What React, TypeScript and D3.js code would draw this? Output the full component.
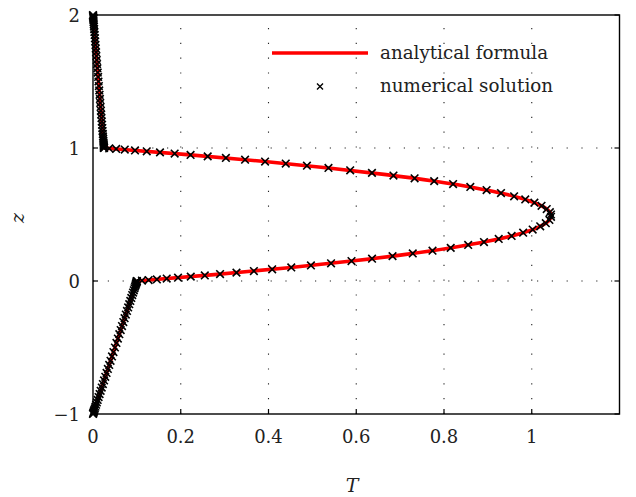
import React from "react";
import * as d3 from "d3";

// ---- data ----
const xTicks = [0, 0.2, 0.4, 0.6, 0.8, 1];
const xTickLabels = ["0", "0.2", "0.4", "0.6", "0.8", "1"];
const yTicks = [-1, 0, 1, 2];
const yTickLabels = ["\u22121", "0", "1", "2"];
const xGrid = [0.2, 0.4, 0.6, 0.8, 1];
const yGrid = [0, 1];

// analytical formula (z, T)
const anaLowZ = [-1, 0];
const anaLowT = [0, 0.1];
const anaMidZ = [0, 0.05, 0.1, 0.15, 0.2, 0.25, 0.3, 0.35, 0.4, 0.45, 0.5, 0.55, 0.6, 0.65, 0.7, 0.75, 0.8, 0.85, 0.9, 0.95, 1];
const anaMidT = [0.1, 0.2827, 0.4458, 0.5892, 0.713, 0.8172, 0.9018, 0.9667, 1.012, 1.0377, 1.0438, 1.0302, 0.997, 0.9442, 0.8718, 0.7797, 0.668, 0.5367, 0.3858, 0.2152, 0.025];
const anaUpZ = [1, 2];
const anaUpT = [0.025, 0];

// numerical solution (z, T)
const numLowZ = [-1, -0.996, -0.991, -0.985, -0.978, -0.969, -0.958, -0.945, -0.93, -0.913, -0.894, -0.873, -0.85, -0.826, -0.801, -0.775, -0.748, -0.72, -0.691, -0.661, -0.631, -0.6, -0.567, -0.534, -0.5, -0.466, -0.433, -0.4, -0.369, -0.339, -0.309, -0.28, -0.252, -0.225, -0.199, -0.174, -0.15, -0.127, -0.106, -0.087, -0.07, -0.055, -0.042, -0.031, -0.022, -0.015, -0.009, -0.004, 0];
const numLowT = [0, 0.0004, 0.0009, 0.0015, 0.0022, 0.0031, 0.0042, 0.0055, 0.007, 0.0087, 0.0106, 0.0127, 0.015, 0.0174, 0.0199, 0.0225, 0.0252, 0.028, 0.0309, 0.0339, 0.0369, 0.04, 0.0433, 0.0466, 0.05, 0.0534, 0.0567, 0.06, 0.0631, 0.0661, 0.0691, 0.072, 0.0748, 0.0775, 0.0801, 0.0826, 0.085, 0.0873, 0.0894, 0.0913, 0.093, 0.0945, 0.0958, 0.0969, 0.0978, 0.0985, 0.0991, 0.0996, 0.1];
const numMidZ = [0, 0.003, 0.007, 0.012, 0.018, 0.025, 0.033, 0.042, 0.052, 0.063, 0.075, 0.088, 0.102, 0.117, 0.133, 0.15, 0.168, 0.187, 0.207, 0.228, 0.249, 0.271, 0.293, 0.316, 0.339, 0.363, 0.387, 0.411, 0.435, 0.459, 0.483, 0.5, 0.517, 0.541, 0.565, 0.589, 0.613, 0.637, 0.661, 0.684, 0.707, 0.729, 0.751, 0.772, 0.793, 0.813, 0.832, 0.85, 0.867, 0.883, 0.898, 0.912, 0.925, 0.937, 0.948, 0.958, 0.967, 0.975, 0.982, 0.988, 0.993, 0.997, 1];
const numMidT = [0.1, 0.1115, 0.1268, 0.1456, 0.168, 0.1938, 0.2228, 0.2548, 0.2896, 0.327, 0.3667, 0.4084, 0.4519, 0.4967, 0.5426, 0.5892, 0.636, 0.6827, 0.7288, 0.7738, 0.8153, 0.8551, 0.8911, 0.9247, 0.9541, 0.9804, 1.0021, 1.0193, 1.032, 1.0402, 1.0439, 1.0438, 1.0413, 1.0341, 1.0223, 1.006, 0.9852, 0.9598, 0.9299, 0.8971, 0.86, 0.8207, 0.7776, 0.733, 0.6848, 0.6358, 0.5862, 0.5367, 0.4876, 0.4393, 0.3922, 0.3466, 0.3029, 0.2614, 0.2224, 0.1861, 0.1527, 0.1225, 0.0957, 0.0724, 0.0528, 0.037, 0.025];
const numUpZ = [1, 1.004, 1.009, 1.015, 1.022, 1.031, 1.042, 1.055, 1.07, 1.087, 1.106, 1.127, 1.15, 1.174, 1.199, 1.225, 1.252, 1.28, 1.309, 1.339, 1.369, 1.4, 1.433, 1.466, 1.5, 1.534, 1.567, 1.6, 1.631, 1.661, 1.691, 1.72, 1.748, 1.775, 1.801, 1.826, 1.85, 1.873, 1.894, 1.913, 1.93, 1.945, 1.958, 1.969, 1.978, 1.985, 1.991, 1.996, 2];
const numUpT = [0.025, 0.0249, 0.0248, 0.0246, 0.0245, 0.0242, 0.024, 0.0236, 0.0233, 0.0228, 0.0224, 0.0218, 0.0213, 0.0207, 0.02, 0.0194, 0.0187, 0.018, 0.0173, 0.0165, 0.0158, 0.015, 0.0142, 0.0134, 0.0125, 0.0117, 0.0108, 0.01, 0.0092, 0.0085, 0.0077, 0.007, 0.0063, 0.0056, 0.005, 0.0044, 0.0038, 0.0032, 0.0027, 0.0022, 0.0018, 0.0014, 0.0011, 0.0008, 0.0006, 0.0004, 0.0002, 0.0001, 0];

const legendLabels = ["analytical formula", "numerical solution"];

// ---- layout ----
const W = 636, H = 497;
const left = 93, right = 619.5, top = 15, bottom = 414;
const FONT = "DejaVu Serif";

export default function App() {
  const x = d3.scaleLinear().domain([0, 1.2]).range([left, right]);
  const y = d3.scaleLinear().domain([-1, 2]).range([bottom, top]);

  const pts = (zs: number[], ts: number[]) => zs.map((z, i) => [ts[i], z] as [number, number]);
  const straight = d3.line<[number, number]>().x(d => x(d[0])).y(d => y(d[1]));
  const smooth = d3.line<[number, number]>().x(d => x(d[0])).y(d => y(d[1])).curve(d3.curveNatural);

  const markers = [...pts(numLowZ, numLowT), ...pts(numMidZ, numMidT), ...pts(numUpZ, numUpT)];
  const cross = (cx: number, cy: number, k: string | number, ms = 3.8, sw = 1.6) => (
    <path key={k} d={`M${cx - ms},${cy - ms}L${cx + ms},${cy + ms}M${cx - ms},${cy + ms}L${cx + ms},${cy - ms}`} stroke="#000" strokeWidth={sw} fill="none" />
  );

  const dash = "1.2 13.6";
  const redW = 3.6;

  return (
    <svg width={W} height={H} style={{ position: "absolute", left: 0, top: 0, background: "#fff" }} fontFamily={FONT}>
      {/* grid */}
      {xGrid.map(v => (
        <line key={"gx" + v} x1={x(v)} x2={x(v)} y1={bottom} y2={top} stroke="#222" strokeWidth={1.1} strokeDasharray={dash} />
      ))}
      {yGrid.map(v => (
        <line key={"gy" + v} x1={left} x2={right} y1={y(v)} y2={y(v)} stroke="#222" strokeWidth={1.1} strokeDasharray={dash} />
      ))}

      {/* legend */}
      <line x1={272} x2={368} y1={53} y2={53} stroke="#ff0000" strokeWidth={redW} />
      <text x={380} y={59} fontSize={18.3} fill="#222">{legendLabels[0]}</text>
      {cross(320, 86.5, "leg", 3, 1.4)}
      <text x={380} y={92} fontSize={18.3} fill="#222">{legendLabels[1]}</text>

      {/* analytical */}
      <g fill="none" stroke="#ff0000" strokeWidth={redW} strokeLinejoin="round">
        <path d={straight(pts(anaLowZ, anaLowT)) || ""} />
        <path d={smooth(pts(anaMidZ, anaMidT)) || ""} />
        <path d={straight(pts(anaUpZ, anaUpT)) || ""} />
      </g>

      {/* numerical */}
      <g>{markers.map((p, i) => cross(x(p[0]), y(p[1]), i))}</g>

      {/* frame */}
      <rect x={left} y={top} width={right - left} height={bottom - top} fill="none" stroke="#000" strokeWidth={1.4} />

      {/* ticks */}
      {xTicks.map(v => (
        <line key={"tx" + v} x1={x(v)} x2={x(v)} y1={bottom} y2={bottom - 5} stroke="#000" strokeWidth={1.2} />
      ))}
      {yTicks.map(v => (
        <g key={"ty" + v}>
          <line x1={left} x2={left + 5} y1={y(v)} y2={y(v)} stroke="#000" strokeWidth={1.2} />
          <line x1={right} x2={right - 5} y1={y(v)} y2={y(v)} stroke="#000" strokeWidth={1.2} />
        </g>
      ))}

      {/* tick labels */}
      {xTicks.map((v, i) => (
        <text key={"lx" + v} x={x(v)} y={443} textAnchor="middle" fontSize={18} fill="#222">{xTickLabels[i]}</text>
      ))}
      {yTicks.map((v, i) => (
        <text key={"ly" + v} x={80} y={y(v) + 6.5} textAnchor="end" fontSize={18} fill="#222">{yTickLabels[i]}</text>
      ))}

      {/* axis titles */}
      <text x={352} y={492} textAnchor="middle" fontSize={19} fontStyle="italic" fill="#222">T</text>
      <text transform={`translate(24,218) rotate(-90)`} textAnchor="middle" fontSize={19} fontStyle="italic" fill="#222">z</text>
    </svg>
  );
}
